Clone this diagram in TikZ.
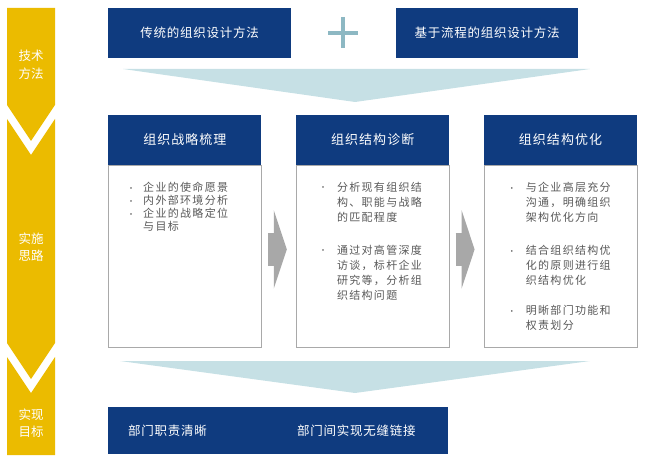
\documentclass[tikz,border=0pt]{standalone}
\usepackage{fontspec}
\setmainfont{Noto Sans CJK SC}
\usetikzlibrary{arrows.meta,calc,positioning}
\definecolor{navy}{HTML}{0F3B7F}
\definecolor{gold}{HTML}{EBBB00}
\definecolor{paleblue}{HTML}{C6E0E5}
\definecolor{plusblue}{HTML}{8DB8C3}
\definecolor{arrowgray}{HTML}{A8A8A8}
\definecolor{framegray}{HTML}{A9A9A9}
\definecolor{textgray}{HTML}{595959}
\newcommand{\bul}[1][16bp]{\makebox[#1][l]{\raisebox{0.5bp}{\fontsize{8bp}{8bp}\selectfont •}}}
\newcommand{\ind}[1][16bp]{\hspace*{#1}}

\begin{document}
\begin{tikzpicture}[x=1bp,y=-1bp,
  methodbox/.style={fill=navy,text=white,minimum height=50bp,inner sep=0,anchor=north west,
    font=\fontsize{12.5bp}{15bp}\selectfont\addfontfeature{LetterSpace=6}},
  headbox/.style={fill=navy,text=white,minimum width=153bp,minimum height=50bp,inner sep=0,
    font=\fontsize{13bp}{15bp}\selectfont\addfontfeature{LetterSpace=8}},
  bodybox/.style={draw=framegray,line width=0.8bp,fill=white,minimum width=153bp,minimum height=182bp,inner sep=0},
  bodytext/.style={text=textgray,align=left,inner sep=0,anchor=north west,
    font=\fontsize{11bp}{15bp}\selectfont\addfontfeature{LetterSpace=12}},
  bandtext/.style={text=white,align=center,inner sep=0,
    font=\fontsize{12.5bp}{17.5bp}\selectfont},
  goaltext/.style={text=white,inner sep=0,anchor=west,
    font=\fontsize{12.5bp}{15bp}\selectfont\addfontfeature{LetterSpace=6}},
  steparrow/.style={arrowgray,line width=33bp,-{Triangle[length=13bp,width=78bp]},
    shorten <=6bp,shorten >=9bp}]
  \useasboundingbox (0,0) rectangle (650,463);

  % Left band
  \fill[gold] (7,8) -- (55,8) -- (55,105) -- (31,141) -- (7,105) -- cycle;
  \fill[gold] (7,119) -- (31,155) -- (55,119) -- (55,343) -- (31,379) -- (7,343) -- cycle;
  \fill[gold] (7,357) -- (31,393) -- (55,357) -- (55,455) -- (7,455) -- cycle;
  \node[bandtext] (m1) at (31,65) {技术\\方法};
  \node[bandtext] (m2) at (31,247) {实施\\思路};
  \node[bandtext] (m3) at (31,423) {实现\\目标};

  % Methods
  \node[methodbox,minimum width=183bp] (t1) at (108,8) {传统的组织设计方法};
  \node[methodbox,minimum width=182bp] (t2) at (396,8) {基于流程的组织设计方法};
  \draw[plusblue,line width=3.5bp] (328,33) -- (358,33) (343,17) -- (343,48);

  % Funnel
  \fill[paleblue] (123,69) -- (590,69) -- (355,102) -- cycle;

  % Steps
  \node[bodybox,anchor=north west] (b1) at (108,165) {};
  \node[bodybox,right=34bp of b1] (b2) {};
  \node[bodybox,right=34bp of b2] (b3) {};
  \node[headbox,above=0bp of b1] (h1) {组织战略梳理};
  \node[headbox,above=0bp of b2] (h2) {组织结构诊断};
  \node[headbox,above=0bp of b3] (h3) {组织结构优化};

  \node[bodytext,font=\fontsize{11bp}{13bp}\selectfont\addfontfeature{LetterSpace=12}] (c1)
    at ([shift={(19,17)}]b1.north west)
    {\bul 企业的使命愿景\\ \bul 内外部环境分析\\ \bul 企业的战略定位\\ \ind 与目标};
  \node[bodytext] (c2) at ([shift={(23,17)}]b2.north west)
    {\bul[18bp]分析现有组织结\\ \ind[18bp]构、职能与战略\\ \ind[18bp]的匹配程度\\[18bp]
     \bul[18bp]通过对高管深度\\ \ind[18bp]访谈，标杆企业\\ \ind[18bp]研究等，分析组\\ \ind[18bp]织结构问题};
  \node[bodytext] (c3) at ([shift={(24,17)}]b3.north west)
    {\bul[18bp]与企业高层充分\\ \ind[18bp]沟通，明确组织\\ \ind[18bp]架构优化方向\\[18bp]
     \bul[18bp]结合组织结构优\\ \ind[18bp]化的原则进行组\\ \ind[18bp]织结构优化\\[15bp]
     \bul[18bp]明晰部门功能和\\ \ind[18bp]权责划分};

  \draw[steparrow] ([yshift=7bp]b1.east) -- ([yshift=7bp]b2.west);
  \draw[steparrow] ([yshift=7bp]b2.east) -- ([yshift=7bp]b3.west);

  % Funnel
  \fill[paleblue] (120,361) -- (590,361) -- (355,393) -- cycle;

  % Goals
  \node[methodbox,minimum width=340bp,minimum height=47bp] (goal) at (108,407) {};
  \node[goaltext] (g1) at ([xshift=20bp]goal.west) {部门职责清晰};
  \node[goaltext] (g2) at ([xshift=189bp]goal.west) {部门间实现无缝链接};
\end{tikzpicture}
\end{document}
